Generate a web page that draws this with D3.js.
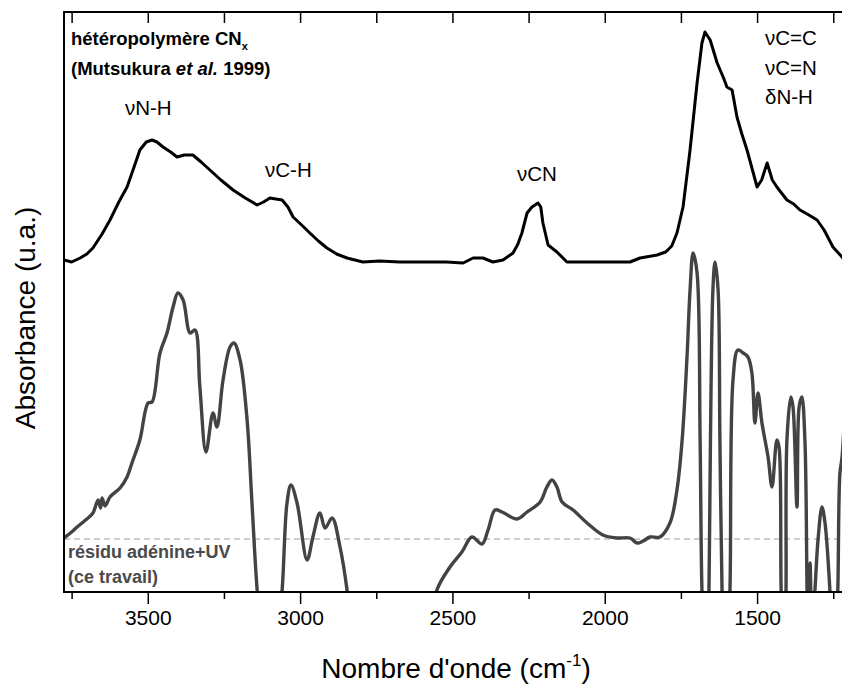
<!DOCTYPE html>
<html>
<head>
<meta charset="utf-8">
<script src="https://cdn.jsdelivr.net/npm/d3@7"></script>
<style>
  html, body { margin: 0; padding: 0; background: #fff; }
  svg { display: block; }
  text { font-family: "Liberation Sans", Arial, sans-serif; }
</style>
</head>
<body>
<svg id="chart" width="842" height="686"></svg>
<script>
// ---- data (wavenumber in cm-1, absorbance in arbitrary units) ----
const wnTop = [3775, 3750, 3722, 3700, 3680, 3650, 3624, 3595, 3568, 3545, 3526, 3505, 3486, 3470, 3450, 3425, 3404, 3380, 3352, 3325, 3296, 3260, 3220, 3180, 3141, 3120, 3099, 3080, 3059, 3040, 3023, 2995, 2968, 2940, 2912, 2880, 2846, 2820, 2794, 2740, 2672, 2600, 2520, 2465, 2432, 2415, 2400, 2367, 2334, 2301, 2285, 2272, 2255, 2239, 2219, 2210, 2203, 2186, 2157, 2124, 2050, 1980, 1917, 1884, 1828, 1800, 1780, 1763, 1743, 1720, 1697, 1681, 1671, 1654, 1631, 1610, 1599, 1582, 1566, 1550, 1533, 1500, 1485, 1467, 1450, 1435, 1402, 1380, 1359, 1330, 1303, 1280, 1251, 1221, 1200];
const absTop = [332, 330, 334, 338, 344, 358, 372, 390, 405, 425, 442, 450, 452, 450, 445, 440, 435, 437, 437, 430, 422, 412, 402, 394, 387, 390, 394, 393, 392, 385, 375, 367, 359, 351, 344, 338, 334, 332, 330, 331, 330, 330, 330, 329, 334, 334, 334, 330, 332, 339, 348, 359, 379, 385, 389, 385, 369, 347, 340, 330, 330, 330, 330, 334, 337, 340, 346, 359, 385, 442, 509, 549, 560, 552, 529, 514, 505, 502, 475, 458, 442, 405, 412, 429, 412, 405, 392, 388, 382, 377, 372, 362, 345, 335, 325];

const wnBottom = [3775, 3750, 3732, 3700, 3680, 3663, 3655, 3650, 3640, 3624, 3591, 3568, 3552, 3526, 3499, 3486, 3460, 3437, 3417, 3401, 3384, 3361, 3345, 3329, 3309, 3286, 3273, 3253, 3230, 3217, 3197, 3174, 3158, 3141, 3125, 3076, 3059, 3043, 3030, 3010, 2977, 2958, 2935, 2918, 2895, 2869, 2846, 2830, 2580, 2551, 2508, 2469, 2436, 2403, 2383, 2360, 2337, 2288, 2255, 2212, 2190, 2173, 2157, 2140, 2104, 2058, 2006, 1960, 1917, 1894, 1874, 1851, 1819, 1786, 1763, 1746, 1730, 1720, 1710, 1697, 1687, 1681, 1674, 1661, 1658, 1645, 1638, 1628, 1622, 1615, 1609, 1596, 1589, 1579, 1563, 1546, 1530, 1517, 1507, 1497, 1484, 1464, 1451, 1435, 1428, 1421, 1415, 1408, 1405, 1402, 1389, 1382, 1369, 1362, 1353, 1343, 1336, 1333, 1326, 1320, 1310, 1300, 1287, 1277, 1261, 1254, 1241, 1235, 1228, 1221, 1211];
const absBottom = [54, 60, 65, 73, 79, 92, 84, 94, 86, 95, 104, 115, 129, 152, 189, 190, 239, 259, 285, 299, 292, 259, 262, 205, 140, 179, 165, 212, 245, 249, 232, 172, 89, 2, -48, -48, 2, 89, 107, 89, 32, 55, 79, 64, 74, 45, 2, -48, -48, 2, 25, 40, 55, 48, 62, 82, 80, 73, 80, 90, 105, 112, 105, 90, 82, 69, 57, 54, 54, 49, 51, 55, 55, 69, 102, 152, 235, 302, 339, 319, 152, 2, -48, -48, 2, 302, 330, 302, 152, 2, -48, -48, 2, 212, 242, 239, 235, 219, 169, 199, 169, 135, 105, 152, 145, 2, -48, -48, 2, 152, 195, 185, 85, 185, 195, 152, 2, -48, 29, -48, 2, 52, 85, 69, 2, -48, -48, 2, 119, 135, 192];

const majorTicks = [3500, 3000, 2500, 2000, 1500];
const minorTicks = [3750, 3250, 2750, 2250, 1750, 1250];
const baselineLevel = [53];

const topLabels = [
  { t: "\u03BDN-H", wn: 3575, a: 477 },
  { t: "\u03BDC-H", wn: 3115, a: 415 },
  { t: "\u03BDCN", wn: 2288, a: 411 }
];
const rightLabels = ["\u03BDC=C", "\u03BDC=N", "\u03B4N-H"];

// ---- layout ----
const svg = d3.select("#chart");
const L = 64, T = 12, B = 592;
const x = d3.scaleLinear().domain([3775, 1200]).range([L, L + 2575 * 0.30465]);
const y = d3.scaleLinear().domain([0, 580]).range([B, T]);

svg.append("defs").append("clipPath").attr("id", "plotclip")
  .append("rect").attr("x", L).attr("y", T).attr("width", 842 - L).attr("height", B - T);

const g = svg.append("g").attr("clip-path", "url(#plotclip)");

// dashed baseline
g.append("line")
  .attr("x1", L).attr("x2", 842)
  .attr("y1", y(baselineLevel[0])).attr("y2", y(baselineLevel[0]))
  .attr("stroke", "#bdbdbd").attr("stroke-width", 1.6).attr("stroke-dasharray", "6,4");

// lower curve
const lineB = d3.line().x((d, i) => x(wnBottom[i])).y(d => y(d)).curve(d3.curveCatmullRom.alpha(0.5));
g.append("path").datum(absBottom).attr("d", lineB)
  .attr("fill", "none").attr("stroke", "#434343").attr("stroke-width", 3.4)
  .attr("stroke-linejoin", "round");

// upper curve
const lineT = d3.line().x((d, i) => x(wnTop[i])).y(d => y(d)).curve(d3.curveLinear);
g.append("path").datum(absTop).attr("d", lineT)
  .attr("fill", "none").attr("stroke", "#000").attr("stroke-width", 3)
  .attr("stroke-linejoin", "round");

// axes frame
svg.append("line").attr("x1", L).attr("x2", L).attr("y1", T).attr("y2", B)
  .attr("stroke", "#000").attr("stroke-width", 2);
svg.append("line").attr("x1", L - 1).attr("x2", 842).attr("y1", T).attr("y2", T)
  .attr("stroke", "#000").attr("stroke-width", 2);

// bottom axis
const bottomAxis = d3.axisBottom(x).tickValues(majorTicks).tickSize(12).tickPadding(6)
  .tickFormat(d3.format("d"));
const gb = svg.append("g").attr("transform", `translate(0,${B})`).call(bottomAxis);
gb.select(".domain").remove();
gb.append("line").attr("x1", L - 1).attr("x2", 842).attr("y1", 0).attr("y2", 0)
  .attr("stroke", "#000").attr("stroke-width", 2);
gb.selectAll(".tick line").attr("stroke", "#000").attr("stroke-width", 1.5);
gb.selectAll(".tick text").attr("font-size", 21).attr("fill", "#000")
  .attr("font-family", "Liberation Sans, Arial, sans-serif").attr("dy", "0.71em");
const gbm = svg.append("g").attr("transform", `translate(0,${B})`)
  .call(d3.axisBottom(x).tickValues(minorTicks).tickSize(7).tickFormat(""));
gbm.select(".domain").remove();
gbm.selectAll(".tick line").attr("stroke", "#000").attr("stroke-width", 1.5);

// top axis (ticks pointing inward)
const gt = svg.append("g").attr("transform", `translate(0,${T})`)
  .call(d3.axisTop(x).tickValues(majorTicks.concat(minorTicks)).tickSize(-11).tickFormat(""));
gt.select(".domain").remove();
gt.selectAll(".tick line").attr("stroke", "#000").attr("stroke-width", 1.5);

// axis titles
const xt = svg.append("text").attr("x", 456).attr("y", 678).attr("text-anchor", "middle")
  .attr("font-size", 28).attr("fill", "#000");
xt.append("tspan").text("Nombre d'onde (cm");
xt.append("tspan").attr("font-size", 17).attr("dy", -12).text("-1");
xt.append("tspan").attr("dy", 12).text(")");

svg.append("text").attr("transform", "translate(35,318) rotate(-90)")
  .attr("text-anchor", "middle").attr("font-size", 28).attr("fill", "#000")
  .text("Absorbance (u.a.)");

// upper spectrum legend
const t1 = svg.append("text").attr("x", 71).attr("y", 45).attr("font-size", 18.5)
  .attr("font-weight", "bold").attr("fill", "#000");
t1.append("tspan").text("hétéropolymère CN");
t1.append("tspan").attr("font-size", 11).attr("dy", 5).text("x");
const t2 = svg.append("text").attr("x", 71).attr("y", 75).attr("font-size", 18.5)
  .attr("font-weight", "bold").attr("fill", "#000");
t2.append("tspan").text("(Mutsukura ");
t2.append("tspan").attr("font-style", "italic").text("et al.");
t2.append("tspan").text(" 1999)");

// band labels
svg.selectAll("text.band").data(topLabels).enter().append("text")
  .attr("class", "band")
  .attr("x", d => x(d.wn)).attr("y", d => y(d.a))
  .attr("font-size", 20.5).attr("fill", "#000").text(d => d.t);

svg.selectAll("text.rband").data(rightLabels).enter().append("text")
  .attr("class", "rband")
  .attr("x", 765).attr("y", (d, i) => 45 + i * 29.5)
  .attr("font-size", 20.5).attr("fill", "#000").text(d => d);

// lower spectrum legend
svg.append("text").attr("x", 68).attr("y", 558).attr("font-size", 18)
  .attr("font-weight", "bold").attr("fill", "#4a4a4a").text("résidu adénine+UV");
svg.append("text").attr("x", 68).attr("y", 583).attr("font-size", 18)
  .attr("font-weight", "bold").attr("fill", "#4a4a4a").text("(ce travail)");
</script>
</body>
</html>
